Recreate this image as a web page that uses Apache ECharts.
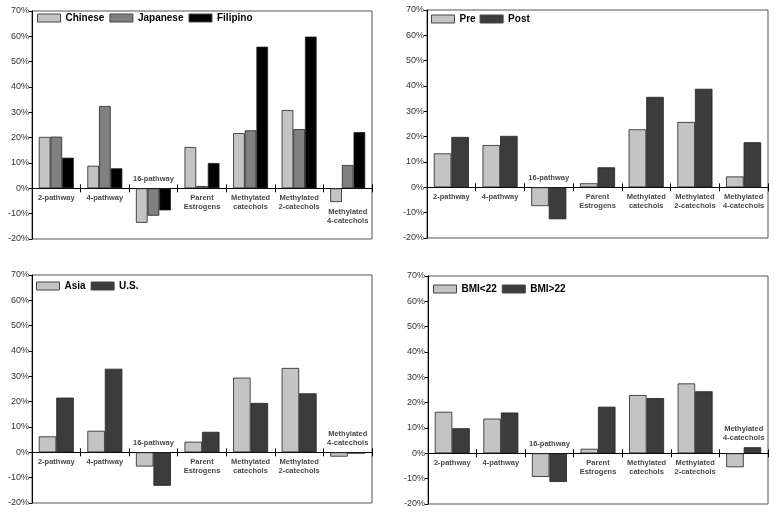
<!DOCTYPE html>
<html><head><meta charset="utf-8">
<script src="https://cdn.jsdelivr.net/npm/echarts@6/dist/echarts.min.js"></script>
<style>html,body{margin:0;padding:0;background:#fff}#c{width:774px;height:512px}</style>
</head><body><div id="c"></div>
<script>
const categories = ['2-pathway','4-pathway','16-pathway','Parent\nEstrogens','Methylated\ncatechols','Methylated\n2-catechols','Methylated\n4-catechols'];
const yTicks = [-20, -10, 0, 10, 20, 30, 40, 50, 60, 70];

// Panel 1: ethnicity
const chinese  = [20.3, 8.9, -13.6, 16.3, 21.8, 30.9, -5.4];
const japanese = [20.4, 32.5, -10.8, 0.9, 22.9, 23.4, 9.2];
const filipino = [12.1, 7.9, -8.7, 10.0, 55.9, 59.9, 22.2];
// Panel 2: menopausal status
const pre  = [13.4, 16.7, -7.4, 1.6, 22.9, 25.8, 4.3];
const post = [19.9, 20.3, -12.6, 7.9, 35.7, 38.9, 17.8];
// Panel 3: birthplace
const asia = [6.3, 8.5, -5.6, 4.2, 29.5, 33.3, -1.7];
const us   = [21.6, 33.0, -13.2, 8.1, 19.5, 23.3, -0.5];
// Panel 4: BMI
const bmiLow  = [16.4, 13.7, -9.3, 1.8, 23.0, 27.6, -5.5];
const bmiHigh = [9.9, 16.1, -11.3, 18.4, 21.8, 24.5, 2.4];

// category label side (above/below the bars)
const side1 = ['below','below','above','below','below','below','below'];
const side2 = ['below','below','above','below','below','below','below'];
const side3 = ['below','below','above','below','below','below','above'];
const side4 = ['below','below','above','below','below','below','above'];

const FONT = 'Liberation Sans, Arial, Helvetica, sans-serif';
const LIGHT = '#c4c4c4', MID = '#808080', BLACK = '#000000', DARK = '#3c3c3c';

const panels = [
  {grid:{left:32, top:11, width:340, height:228}, legend:{left:37, top:13}, itemGap:5,
   series:[['Chinese',chinese,LIGHT],['Japanese',japanese,MID],['Filipino',filipino,BLACK]], side:side1},
  {grid:{left:427, top:10, width:341, height:228}, legend:{left:431, top:14}, itemGap:4,
   series:[['Pre',pre,LIGHT],['Post',post,DARK]], side:side2},
  {grid:{left:32, top:275, width:340, height:228}, legend:{left:36, top:281}, itemGap:5,
   series:[['Asia',asia,LIGHT],['U.S.',us,DARK]], side:side3},
  {grid:{left:428, top:276, width:340, height:228}, legend:{left:433, top:284}, itemGap:5,
   series:[['BMI<22',bmiLow,LIGHT],['BMI>22',bmiHigh,DARK]], side:side4}
];

const option = {
  animation:false,
  backgroundColor:'#ffffff',
  textStyle:{fontFamily:FONT},
  grid:[], xAxis:[], yAxis:[], legend:[], series:[]
};

panels.forEach((p, i) => {
  option.grid.push(Object.assign({show:true, borderColor:'#555', borderWidth:1, backgroundColor:'transparent'}, p.grid));
  option.yAxis.push({
    type:'value', gridIndex:i, min:yTicks[0], max:yTicks[yTicks.length-1], interval:10,
    axisLine:{show:true, lineStyle:{color:'#000', width:1}},
    axisTick:{show:true, length:3, lineStyle:{color:'#000'}},
    splitLine:{show:false},
    axisLabel:{formatter:'{value}%', fontSize:9, color:'#333', margin:3, fontFamily:FONT}
  });
  const xa = {
    type:'category', gridIndex:i, data:categories, boundaryGap:true, position:'bottom',
    axisLine:{show:true, onZero:true, onZeroAxisIndex:i, lineStyle:{color:'#000', width:1}},
    axisLabel:{show:false}, splitLine:{show:false}
  };
  option.xAxis.push(Object.assign({}, xa, {axisTick:{show:true, interval:0, length:4, lineStyle:{color:'#000'}}}));
  option.xAxis.push(Object.assign({}, xa, {axisTick:{show:true, inside:true, interval:0, length:4, lineStyle:{color:'#000'}}}));
  option.legend.push({
    left:p.legend.left, top:p.legend.top, orient:'horizontal', padding:0,
    itemWidth:23, itemHeight:8, itemGap:p.itemGap, selectedMode:false,
    data:p.series.map(s => ({name:s[0], icon:'rect', itemStyle:{borderColor:'#444', borderWidth:1}})),
    textStyle:{fontSize:10, fontWeight:'bold', color:'#000', fontFamily:FONT}
  });
  p.series.forEach(s => {
    option.series.push({
      name:s[0], type:'bar', xAxisIndex:2*i, yAxisIndex:i, data:s[1],
      barGap:'0%', barCategoryGap:'28%',
      itemStyle:{color:s[2], borderColor:'#222', borderWidth:0.8}
    });
  });
  // category labels placed next to the bar group
  const labelData = categories.map((c, k) => {
    const vals = p.series.map(s => s[1][k]);
    const v = p.side[k] === 'above' ? Math.max(0, ...vals) : Math.min(0, ...vals);
    return {value:[k, v], label:{position: p.side[k] === 'above' ? 'top' : 'bottom'}};
  });
  option.series.push({
    name:'labels'+i, type:'scatter', xAxisIndex:2*i, yAxisIndex:i, symbolSize:0, silent:true,
    data:labelData, z:10,
    label:{show:true, distance:5, formatter:(d) => categories[d.value[0]],
      fontSize:7.5, fontWeight:'bold', color:'#111', lineHeight:9, fontFamily:FONT, align:'center'}
  });
});

const chart = echarts.init(document.getElementById('c'), null, {renderer:'canvas'});
chart.setOption(option);
</script>
</body></html>
